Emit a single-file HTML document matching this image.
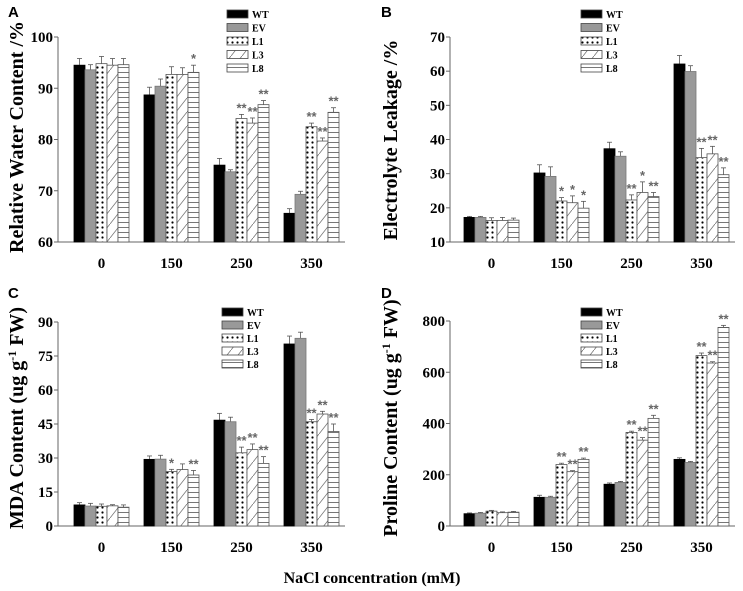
<!DOCTYPE html>
<html><head><meta charset="utf-8"><style>
body{margin:0;background:#fff;}
svg{display:block;font-family:"Liberation Serif",serif;}
.pl{font-family:"Liberation Sans",sans-serif;font-weight:bold;font-size:15px;}
</style></head><body>
<svg id="chart" width="743" height="591" viewBox="0 0 743 591">
<defs>
<pattern id="pDots" width="5" height="5" patternUnits="userSpaceOnUse"><rect width="5" height="5" fill="#fff"/><circle cx="2.5" cy="2.5" r="1.1" fill="#000"/></pattern>
<pattern id="pDiag" width="11" height="14" patternUnits="userSpaceOnUse"><rect width="11" height="14" fill="#fff"/><line x1="0" y1="14" x2="11" y2="0" stroke="#777" stroke-width="0.8"/></pattern>
<pattern id="pHoriz" width="6" height="5" patternUnits="userSpaceOnUse"><rect width="6" height="5" fill="#fff"/><line x1="0" y1="2.5" x2="6" y2="2.5" stroke="#555" stroke-width="0.8"/></pattern>
</defs>
<text class="pl" x="8" y="17">A</text>
<text class="pl" x="381" y="17">B</text>
<text class="pl" x="8" y="298">C</text>
<text class="pl" x="381" y="298">D</text>
<text x="372" y="583" text-anchor="middle" font-weight="bold" font-size="16">NaCl concentration (mM)</text>
</svg>
<script>
const categories = ["0","150","250","350"];
const seriesNames = ["WT","EV","L1","L3","L8"];
// Panel A
const aWT=[94.5,88.7,75.0,65.6], aEV=[93.6,90.4,73.7,69.3], aL1=[94.8,92.7,84.1,82.5], aL3=[94.5,92.7,83.2,79.7], aL8=[94.6,93.1,86.8,85.3];
const aErr=[[1.3,1.5,1.3,0.9],[1.0,1.4,0.4,0.6],[1.4,1.5,0.8,0.7],[1.3,1.3,1.0,0.6],[1.2,1.4,0.8,0.9]];
const aSig=[["","","",""],["","","",""],["","","**","**"],["","","**","**"],["","*","**","**"]];
const aTicks=[60,70,80,90,100];
// Panel B
const bWT=[17.2,30.2,37.3,62.1], bEV=[17.2,29.2,35.1,59.9], bL1=[16.3,22.0,22.3,34.7], bL3=[16.3,21.5,24.5,35.8], bL8=[16.4,19.9,23.3,29.7];
const bErr=[[0.3,2.4,1.9,2.5],[0.3,2.8,1.3,1.7],[0.8,1.0,1.5,2.7],[0.9,2.0,3.1,2.2],[0.6,2.0,1.2,2.0]];
const bSig=[["","","",""],["","","",""],["","*","**","**"],["","*","*","**"],["","*","**","**"]];
const bTicks=[10,20,30,40,50,60,70];
// Panel C
const cWT=[9.3,29.4,46.7,80.3], cEV=[8.8,29.5,46.0,82.8], cL1=[8.7,24.0,32.3,46.0], cL3=[8.9,24.9,33.7,49.4], cL8=[8.3,22.5,27.6,41.7];
const cErr=[[1.0,1.5,3.0,3.5],[1.2,1.7,2.0,2.7],[1.0,1.0,2.5,1.0],[0.5,2.5,2.5,1.2],[1.0,2.0,3.0,3.3]];
const cSig=[["","","",""],["","","",""],["","*","**","**"],["","","**","**"],["","**","**","**"]];
const cTicks=[0,15,30,45,60,75,90];
// Panel D
const dWT=[48,112,163,260], dEV=[50,112,170,248], dL1=[58,240,365,665], dL3=[52,212,335,636], dL8=[54,260,420,775];
const dErr=[[3,8,5,6],[3,4,4,4],[3,5,5,10],[3,4,10,5],[3,5,12,8]];
const dSig=[["","","",""],["","","",""],["","**","**","**"],["","**","**","**"],["","**","**","**"]];
const dTicks=[0,200,400,600,800];

const NS="http://www.w3.org/2000/svg";
const svg=document.getElementById('chart');
const fills=["#000","#999","url(#pDots)","url(#pDiag)","url(#pHoriz)"];
function mk(tag,attrs,parent){const e=document.createElementNS(NS,tag);for(const k in attrs)e.setAttribute(k,attrs[k]);(parent||svg).appendChild(e);return e;}

function panel(p){
  const g=mk('g',{});
  
  
  const yS=v=>p.y0-(v-p.min)/(p.max-p.min)*(p.y0-p.y1);
  const xS=(ci,si)=>p.gx+ci*70+si*11;
  // axes
  const ya=mk('line',{x1:p.ax,y1:p.y1,x2:p.ax,y2:p.y0,stroke:'#666','stroke-width':1},g);
  
  
  const xa=mk('line',{x1:p.ax,y1:p.y0,x2:p.axEnd,y2:p.y0,stroke:'#666','stroke-width':1},g);
  
  
  p.ticks.forEach(t=>{
    const y=yS(t);
    mk('line',{x1:p.ax-4,y1:y,x2:p.ax,y2:y,stroke:'#666'},g);
    const tx=mk('text',{x:p.ax-5,y:y+5,'text-anchor':'end','font-weight':'bold','font-size':15},g);
    tx.textContent=t;
    
    
  });
  categories.forEach((c,ci)=>{
    const tx=mk('text',{x:xS(ci,2.5),y:p.y0+26,'text-anchor':'middle','font-weight':'bold','font-size':15},g);
    tx.textContent=c;
    
    
  });
  p.series.forEach((vals,si)=>{
    vals.forEach((v,ci)=>{
      const x=xS(ci,si), y=yS(v), e=p.err[si][ci];
      const ye=yS(v+e);
      mk('line',{x1:x+5.5,y1:ye,x2:x+5.5,y2:y,stroke:'#555','stroke-width':0.8},g);
      mk('line',{x1:x+3,y1:ye,x2:x+8,y2:ye,stroke:'#555','stroke-width':0.8},g);
      const r=mk('rect',{x:x,y:y,width:11,height:p.y0-y,fill:fills[si],stroke:si<2?(si==0?'#000':'#777'):'#555','stroke-width':0.8},g);
      
      
      const s=p.sig[si][ci];
      if(s){
        const st=mk('text',{x:x+5.5,y:ye-2,'text-anchor':'middle','font-size':13,'font-weight':'bold',fill:'#666','font-family':'Liberation Sans, sans-serif'},g);
        st.textContent=s;
        
        
      }
    });
  });
  // legend
  seriesNames.forEach((n,si)=>{
    const y=p.ly+si*p.lstep;
    const r=mk('rect',{x:p.lx,y:y-4,width:21,height:8,fill:fills[si],stroke:'#444','stroke-width':0.8},g);
    
    
    const t=mk('text',{x:p.lx+25,y:y+4,'font-weight':'bold','font-size':10},g);
    t.textContent=n;
    
    
  });
  // y title
  const t=mk('text',{x:0,y:0,transform:`translate(${p.tx},${p.ty}) rotate(-90)`,'text-anchor':'middle','font-weight':'bold','font-size':p.tfs},g);
  t.innerHTML=p.title;
  
  
}
function c2(ci){return categories[ci];}

panel({id:'a',min:60,max:100,y0:242,y1:37,ax:58,axEnd:345,gx:74,ticks:aTicks,series:[aWT,aEV,aL1,aL3,aL8],err:aErr,sig:aSig,lx:227,ly:14,lstep:13.5,tx:23,ty:137,tfs:20,title:'Relative Water Content /%'});
panel({id:'b',min:10,max:70,y0:242,y1:37,ax:450,axEnd:735,gx:464,ticks:bTicks,series:[bWT,bEV,bL1,bL3,bL8],err:bErr,sig:bSig,lx:581,ly:14,lstep:13.5,tx:397,ty:140,tfs:20,title:'Electrolyte Leakage  /%'});
panel({id:'c',min:0,max:90,y0:526,y1:322,ax:58,axEnd:345,gx:74,ticks:cTicks,series:[cWT,cEV,cL1,cL3,cL8],err:cErr,sig:cSig,lx:222,ly:312,lstep:13,tx:23,ty:418,tfs:20,title:'MDA Content (ug g<tspan dy="-7" font-size="12">-1</tspan><tspan dy="7">  FW)</tspan>'});
panel({id:'d',min:0,max:800,y0:526,y1:321,ax:450,axEnd:735,gx:464,ticks:dTicks,series:[dWT,dEV,dL1,dL3,dL8],err:dErr,sig:dSig,lx:581,ly:312,lstep:13,tx:397,ty:418,tfs:20,title:'Proline Content (ug g<tspan dy="-7" font-size="12">-1</tspan><tspan dy="7">  FW)</tspan>'});
</script>
</body></html>
